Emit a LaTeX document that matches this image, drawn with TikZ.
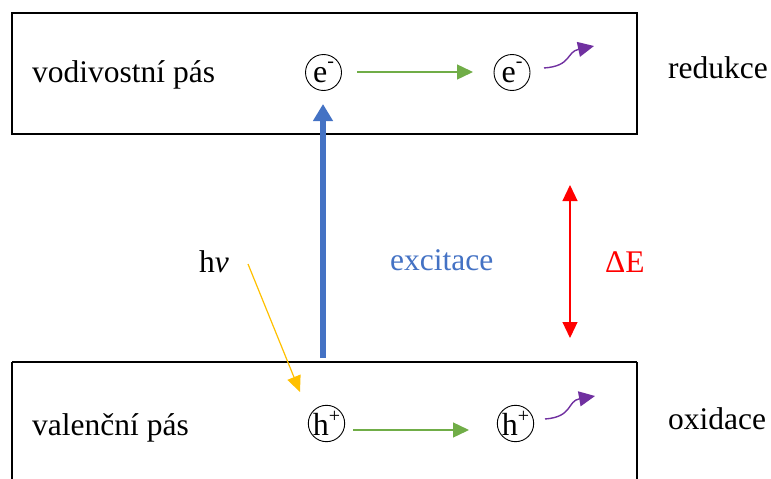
\documentclass[tikz,border=0pt]{standalone}
\usepackage{fontspec}
\setmainfont{Liberation Serif}
\usetikzlibrary{arrows.meta}
\definecolor{blueA}{HTML}{4472C4}
\definecolor{greenA}{HTML}{70AD47}
\definecolor{purpleA}{HTML}{7030A0}
\definecolor{yellowA}{HTML}{FFC000}
\begin{document}
\begin{tikzpicture}[x=1pt,y=-1pt,
  band/.style={draw=black,line width=2.2pt},
  lbl/.style={font=\fontsize{31.5}{36}\selectfont,anchor=base west,inner sep=0pt},
  particle/.style={draw=black,line width=0.9pt,circle,minimum size=36pt,inner sep=0pt,font=\fontsize{32}{36}\selectfont},
  garrow/.style={draw=greenA,line width=1.4pt,-{Triangle[length=16pt,width=15pt]}},
  parrow/.style={draw=purpleA,line width=1.4pt,-{Triangle[length=16pt,width=15pt]}}]
\useasboundingbox (0,0) rectangle (771,479);
% bands
\draw[band] (12,13) rectangle (637,134);
\draw[band] (12,362) -- (637,362);
\draw[band] (12,362) -- (12,485);
\draw[band] (637,362) -- (637,485);
% labels
\node[lbl] (vp) at (32,82) {vodivostní pás};
\node[lbl] (red) at (668,78) {redukce};
\node[lbl] (val) at (32,435) {valenční pás};
\node[lbl] (ox) at (668,429) {oxidace};
\node[lbl] (hv) at (199,272) {h\textit{v}};
\node[lbl,text=blueA] (exc) at (390,270) {excitace};
\node[lbl,text=red] (dE) at (605,272) {ΔE};
% particles
\node[particle] (e1) at (323.5,72.5) {e\raisebox{0.45em}{\fontsize{20}{20}\selectfont -}};
\node[particle] (e2) at (512,72.5) {e\raisebox{0.45em}{\fontsize{20}{20}\selectfont -}};
\node[particle,minimum size=35pt] (h1) at (326.5,423.5) {h\raisebox{0.4em}{\fontsize{20}{20}\selectfont +}};
\node[particle,minimum size=35pt] (h2) at (515.5,423.5) {h\raisebox{0.4em}{\fontsize{20}{20}\selectfont +}};
% coordinates
\coordinate (g1s) at (357,72);
\coordinate (g1e) at (473,72);
\coordinate (g2s) at (353,430);
\coordinate (g2e) at (469,430);
\coordinate (p1s) at (544,68);
\coordinate (p1e) at (594,46);
\coordinate (p2s) at (545,419);
\coordinate (p2e) at (595,396);
\coordinate (ys) at (248,264);
\coordinate (ye) at (300,392);
\coordinate (rt) at (570,185);
\coordinate (rb) at (570,338);
\coordinate (bs) at (323,358);
\coordinate (be) at (323,104);
% arrows
\draw[garrow] (g1s) -- (g1e);
\draw[garrow] (g2s) -- (g2e);
\draw[parrow] (p1s) .. controls (572,66) and (566,52) .. (p1e);
\draw[parrow] (p2s) .. controls (573,417) and (567,401) .. (p2e);
\draw[draw=yellowA,line width=1.2pt,-{Triangle[length=16pt,width=14pt]}] (ys) -- (ye);
\draw[draw=red,line width=1.2pt,{Triangle[length=16pt,width=15pt]}-{Triangle[length=16pt,width=15pt]}] (rt) -- (rb);
\draw[draw=blueA,line width=6pt,-{Triangle[length=17pt,width=19pt]}] (bs) -- (be);
\end{tikzpicture}
\end{document}
